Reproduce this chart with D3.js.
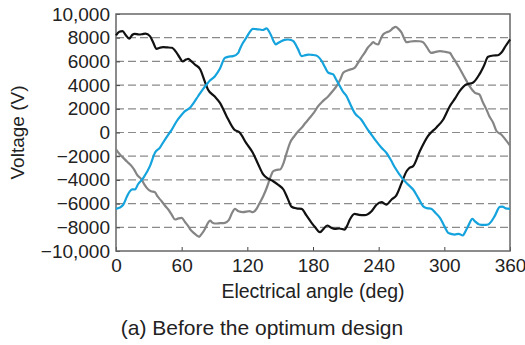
<!DOCTYPE html>
<html>
<head>
<meta charset="utf-8">
<script src="https://cdn.jsdelivr.net/npm/d3@7"></script>
<style>
  body { margin: 0; background: #fff; }
  svg text { font-family: "Liberation Sans", Arial, Helvetica, sans-serif; fill: #222; }
</style>
</head>
<body>
<div id="chart"></div>
<script>
// tick labels
const xTicks = [0, 60, 120, 180, 240, 300, 360];
const yTicks = [-10000, -8000, -6000, -4000, -2000, 0, 2000, 4000, 6000, 8000, 10000];

// phase voltages, [electrical angle, voltage]
const blackSeries = [
  [0,8200],[3,8500],[6,8550],[9,8200],[12,7930],[15,8250],[17,8330],[21,8270],[24,8300],[27,8350],
  [31,8130],[34,7600],[37,7060],[40,7150],[43,7200],[47,7180],[51,7150],[55,6780],[58,6350],[61,5990],
  [64,6150],[66,6220],[69,6000],[72,5740],[77,5320],[81,4330],[84,3630],[90,3060],[95,2500],[101,1380],
  [108,250],[113,0],[119,-900],[125,-1710],[130,-2700],[134.5,-3540],[139,-3900],[143.6,-4110],[148,-4400],
  [153,-4810],[157,-5600],[160.4,-6270],[165,-6400],[169.6,-6440],[174,-7000],[178.7,-7620],[182,-8000],
  [186.3,-8410],[189,-8200],[193,-7850],[196,-8000],[200,-8130],[204,-8100],[209,-8190],[211,-7900],
  [213.7,-7340],[218,-6860],[222,-6950],[227,-6980],[233.5,-6640],[238,-6100],[242.6,-5880],[247,-6080],
  [251.8,-5650],[256,-5320],[261,-4250],[265.5,-3270],[268,-3000],[271.5,-2840],[277.6,-1580],[285,-310],
  [293,450],[299,1100],[305,2220],[310,2900],[314,3490],[320,4050],[326,4190],[332,4900],[336,5600],
  [340,6390],[345,6500],[349,6520],[352,6720],[356,7300],[360,7850]
];
const blueSeries = [
  [0,-6440],[3,-6350],[6.7,-6080],[10,-5400],[12.8,-4950],[15,-4800],[17.4,-4810],[20,-4390],[25,-3830],
  [31,-2840],[35.6,-1710],[40,-1290],[44,-700],[47.8,-170],[51,250],[55.4,950],[60,1500],[63,1800],
  [67.6,2080],[71,2500],[75,3060],[79,3600],[82.8,4050],[86,4400],[90.4,4750],[95,5400],[99.5,6300],
  [103,6400],[107,6440],[111.7,6720],[113,7000],[116,7570],[119,7990],[122,8450],[125,8750],[128,8720],
  [131.5,8690],[134,8650],[137.6,8780],[140,8500],[142,8130],[144,7700],[146,7430],[148,7550],[151,7710],
  [154,7820],[157,7850],[160,7800],[162,7710],[166,7100],[169.6,6440],[172,6500],[175.6,6580],[179,6550],
  [183,6500],[188,6020],[191,5500],[194,5040],[198.5,4900],[201,4500],[204.6,3910],[207,3500],[210.7,3060],
  [214,2400],[218,1660],[224,1100],[230,250],[232,0],[237,-650],[242.6,-1290],[247,-1710],[251,-2300],
  [255,-2980],[262,-3910],[267,-4400],[271.5,-4810],[276,-5500],[280.6,-6220],[284,-6380],[288,-6440],
  [292,-6800],[296,-7200],[300,-7900],[303.5,-8470],[306,-8550],[309.6,-8610],[313,-8550],[317,-8690],
  [319,-8400],[321.7,-7910],[325.7,-7290],[328,-7500],[332,-7760],[336,-7800],[340,-7760],[343,-7500],
  [346,-7060],[350.7,-6270],[353,-6250],[356,-6400],[360,-6440]
];
const graySeries = [
  [0,-1430],[3,-1800],[6.7,-2140],[10,-2450],[14.3,-2840],[17,-3200],[19,-3540],[23.5,-3970],[26,-4400],
  [29.5,-4810],[32,-4950],[35.6,-5040],[38,-5400],[41.7,-5800],[45,-6200],[47.8,-6500],[51,-6950],[54,-7340],
  [57,-7250],[60,-7200],[63,-7550],[66,-7910],[68,-8200],[71,-8470],[74,-8700],[76,-8800],[78,-8600],
  [81,-8190],[83,-7800],[86,-7430],[88,-7600],[90.4,-7680],[95,-7650],[99.5,-7620],[103,-7400],[106,-6800],
  [108.7,-6440],[112,-6650],[116,-6720],[122,-6640],[125,-6720],[128,-6500],[131,-6000],[134.5,-5380],
  [138,-4600],[141,-3800],[143.6,-3270],[147,-3150],[150,-3120],[153,-2600],[156,-1700],[159,-870],
  [163,-300],[166.5,110],[169.6,400],[173,800],[177,1240],[181,1700],[184.7,2220],[189,2650],[194,3060],
  [198,3500],[201.5,3910],[205,4500],[207.6,5040],[212,5260],[218,5460],[221,5850],[224,6300],[227,6700],
  [230,7150],[233,7450],[235,7620],[237,7500],[239.6,7430],[241,7700],[244,8270],[247,8450],[250,8550],
  [253,8800],[255.7,8920],[258,8750],[261,8410],[263,8000],[265.5,7620],[269,7680],[273,7710],[277,7700],
  [280.6,7620],[284,7200],[288,6720],[292,6800],[296,6860],[301,6800],[305,6720],[308,6300],[311,5880],
  [314,5400],[317,4900],[320,4400],[323,3910],[328,3350],[332,3210],[335,2600],[338.5,1940],[341,1400],
  [344.6,820],[347.7,110],[352,-170],[355,-500],[360,-1100]
];

const margin = { top: 14, right: 15, bottom: 94, left: 116 };
const width = 525 - margin.left - margin.right;
const height = 345 - margin.top - margin.bottom;

const svg = d3.select("#chart")
  .append("svg")
  .attr("width", 525)
  .attr("height", 345);

const g = svg.append("g")
  .attr("transform", `translate(${margin.left},${margin.top})`);

const x = d3.scaleLinear().domain([0, 360]).range([0, width]);
const y = d3.scaleLinear().domain([-10000, 10000]).range([height, 0]);

// dashed grid
g.append("g")
  .selectAll("line")
  .data(yTicks.filter(d => d > -10000 && d < 10000))
  .enter()
  .append("line")
  .attr("x1", 0)
  .attr("x2", width)
  .attr("y1", d => y(d))
  .attr("y2", d => y(d))
  .attr("stroke", "#8a8a8a")
  .attr("stroke-width", 1.2)
  .attr("stroke-dasharray", "8,4");

const fmtY = d => {
  const s = Math.abs(d) >= 10000 ? d3.format(",")(Math.abs(d)) : String(Math.abs(d));
  return (d < 0 ? "\u2212" : "") + s;
};

const xAxis = g.append("g")
  .attr("transform", `translate(0,${height})`)
  .call(d3.axisBottom(x).tickValues(xTicks).tickSizeInner(-4).tickSizeOuter(0).tickPadding(8));

const yAxis = g.append("g")
  .call(d3.axisLeft(y).tickValues(yTicks).tickFormat(fmtY).tickSizeInner(-4).tickSizeOuter(0).tickPadding(6));

[xAxis, yAxis].forEach(a => {
  a.select(".domain").remove();
  a.selectAll("line").attr("stroke", "#444");
  a.selectAll("text").style("font-size", "19px").attr("fill", "#222");
});

// frame
g.append("rect")
  .attr("width", width)
  .attr("height", height)
  .attr("fill", "none")
  .attr("stroke", "#666")
  .attr("stroke-width", 1.5);

const line = d3.line()
  .x(d => x(d[0]))
  .y(d => y(d[1]))
  .curve(d3.curveMonotoneX);

const series = [
  { data: graySeries, color: "#858585" },
  { data: blackSeries, color: "#111111" },
  { data: blueSeries, color: "#14a3dd" }
];

g.selectAll(".phase")
  .data(series)
  .enter()
  .append("path")
  .attr("class", "phase")
  .attr("d", d => line(d.data))
  .attr("fill", "none")
  .attr("stroke", d => d.color)
  .attr("stroke-width", 2.2)
  .attr("stroke-linejoin", "round");

svg.append("text")
  .attr("x", margin.left + width / 2)
  .attr("y", 298)
  .attr("text-anchor", "middle")
  .style("font-size", "19.5px")
  .text("Electrical angle (deg)");

svg.append("text")
  .attr("transform", `translate(24,${margin.top + height / 2}) rotate(-90)`)
  .attr("text-anchor", "middle")
  .style("font-size", "19px")
  .text("Voltage (V)");

svg.append("text")
  .attr("x", 262)
  .attr("y", 335)
  .attr("text-anchor", "middle")
  .style("font-size", "21px")
  .text("(a) Before the optimum design");
</script>
</body>
</html>
